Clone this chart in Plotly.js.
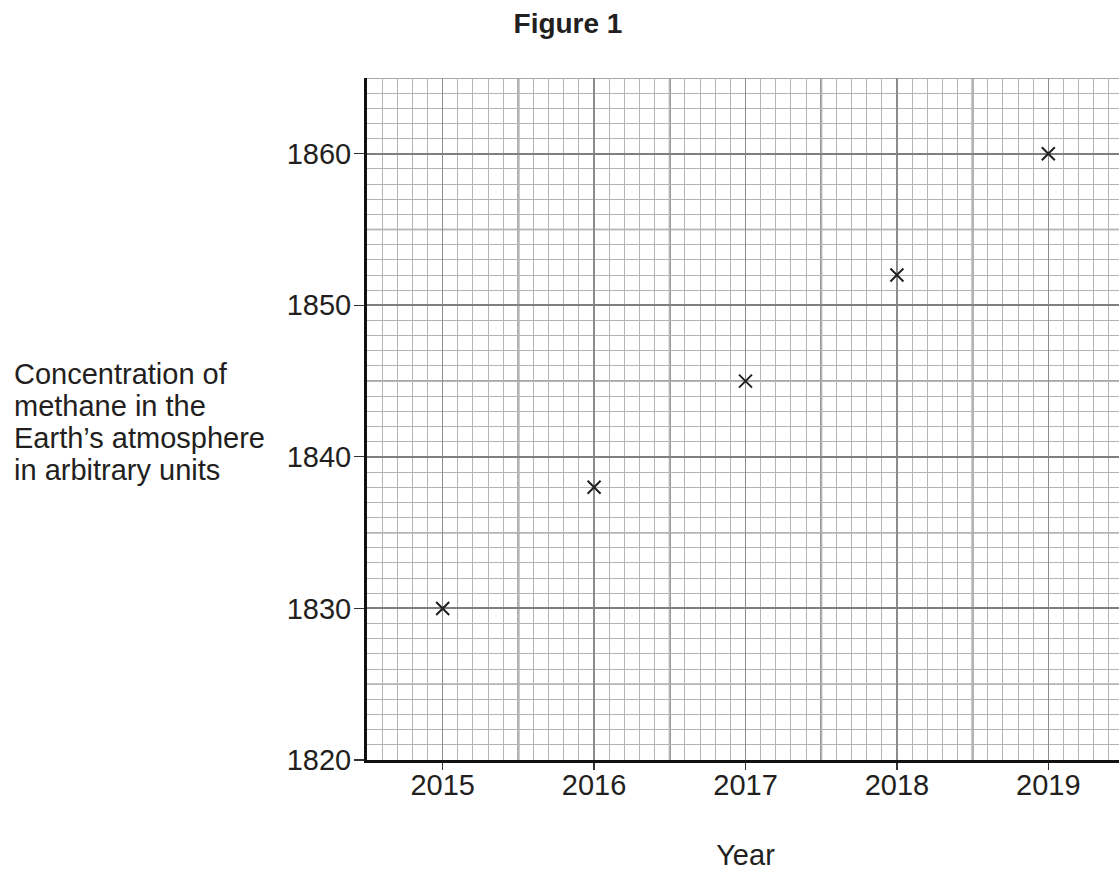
<!DOCTYPE html>
<html>
<head>
<meta charset="utf-8">
<script src="https://cdn.plot.ly/plotly-3.0.1.min.js"></script>
<style>
html, body { margin: 0; padding: 0; overflow: hidden; background: #fff; }
#chart { width: 1130px; height: 871px; }
</style>
</head>
<body>
<div id="chart"></div>
<script>
// Data
const years = [2015, 2016, 2017, 2018, 2019];
const methane = [1830, 1838, 1845, 1852, 1860];
const yearTicks = [2015, 2016, 2017, 2018, 2019];
const yTicks = [1820, 1830, 1840, 1850, 1860];
const yTitleLines = ["Concentration of", "methane in the", "Earth\u2019s atmosphere", "in arbitrary units"];

const xRange = [2014.5, 2019.5];
const yRange = [1820, 1865];

const W = 1130, H = 871;
const mL = 367, mR = 6, mT = 78, mB = 111;
const plotW = W - mL - mR, plotH = H - mT - mB;

const FONT = "Liberation Sans, Arial, sans-serif";
const TXT = "#231f20";

const cMinor = "#b4b4b4", cMed = "#8c8c8c", cThick = "#7f7f7f";

// Grid shapes (medium and thick levels)
const shapes = [];
for (let v = xRange[0] + 1; v < xRange[1] - 1e-9; v += 1) {
  shapes.push({type: "line", layer: "between", xref: "x", yref: "paper", x0: v, x1: v, y0: 0, y1: 1,
    line: {color: cThick, width: 2}});
}
for (let v = yRange[0] + 5; v <= yRange[1] + 1e-9; v += 10) {
  shapes.push({type: "line", layer: "between", xref: "paper", yref: "y", x0: 0, x1: 1, y0: v, y1: v,
    line: {color: cMed, width: 1.5}});
}

const annotations = yTitleLines.map((t, i) => ({
  text: t, showarrow: false, xref: "paper", yref: "paper",
  x: (12 - mL) / plotW, xanchor: "left",
  y: (H - mB - (374 + 32 * i)) / plotH, yanchor: "middle",
  align: "left",
  font: {family: FONT, size: 29, color: TXT}
}));

const trace = {
  x: years, y: methane, type: "scatter", mode: "markers",
  marker: {symbol: "x-thin", size: 13, line: {color: TXT, width: 2}, color: TXT},
  hoverinfo: "skip", cliponaxis: false
};

const layout = {
  width: W, height: H,
  margin: {l: mL, r: mR, t: mT, b: mB, pad: 0},
  paper_bgcolor: "#fff", plot_bgcolor: "#fff",
  showlegend: false,
  title: {text: "<b>Figure 1</b>", font: {family: FONT, size: 28, color: TXT},
    xref: "paper", x: (568 - mL) / plotW, xanchor: "center",
    yref: "container", y: 1 - 23 / H, yanchor: "middle"},
  xaxis: {
    range: xRange, tickmode: "array", tickvals: yearTicks, ticktext: yearTicks.map(String),
    ticks: "outside", ticklen: 7, tickwidth: 1.2, tickcolor: "#333",
    ticklabelstandoff: -10,
    tickfont: {family: FONT, size: 29, color: TXT},
    showgrid: true, gridcolor: cMed, gridwidth: 1.5,
    minor: {dtick: 0.1, tick0: 2014.5, showgrid: true, gridcolor: cMinor, gridwidth: 1, ticks: ""},
    showline: true, linecolor: "#111", linewidth: 3,
    zeroline: false, fixedrange: true,
    title: {text: "Year", font: {family: FONT, size: 29, color: TXT}, standoff: 50}
  },
  yaxis: {
    range: yRange, tickmode: "array", tickvals: yTicks, ticktext: yTicks.map(String),
    ticks: "outside", ticklen: 10, tickwidth: 1.2, tickcolor: "#333",
    ticklabelstandoff: -3,
    tickfont: {family: FONT, size: 29, color: TXT},
    showgrid: true, gridcolor: cThick, gridwidth: 2,
    minor: {dtick: 1, tick0: 1820, showgrid: true, gridcolor: cMinor, gridwidth: 1, ticks: ""},
    showline: true, linecolor: "#111", linewidth: 3,
    zeroline: false, fixedrange: true
  },
  shapes: shapes,
  annotations: annotations
};

Plotly.newPlot("chart", [trace], layout, {displayModeBar: false, staticPlot: true});
</script>
</body>
</html>
